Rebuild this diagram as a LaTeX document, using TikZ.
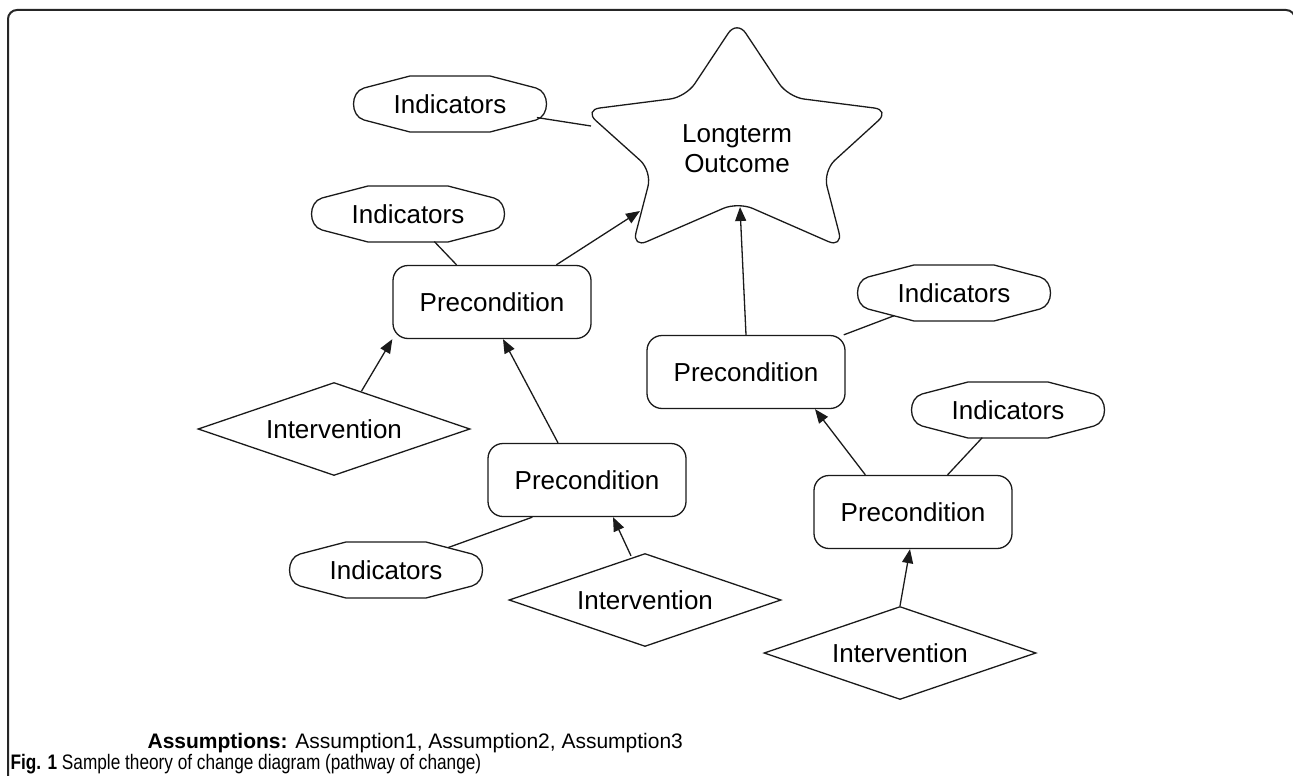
\documentclass[tikz,border=0pt]{standalone}
\usepackage{fontspec}
\setmainfont{Liberation Sans}
\usetikzlibrary{arrows.meta,shapes.geometric,calc}
\definecolor{ink}{HTML}{1A1A1A}
\newcommand\indicnode[2]{%
  \node[indic] (#1) at (#2) {Indicators};
  \draw[line width=1.3pt, ink, shift={(#1.center)}]
    (-40,-28) -- (40,-28) -- (86,-16) .. controls (100,-12) and (100,12) .. (86,16)
    -- (40,28) -- (-40,28) -- (-86,16) .. controls (-100,12) and (-100,-12) .. (-86,-16) -- cycle;}
\begin{document}
\begin{tikzpicture}[x=1pt,y=-1pt,
  line width=1.3pt, draw=ink,
  every node/.style={font=\fontsize{26}{30}\selectfont, text=black},
  prec/.style={draw=ink, rounded corners=15pt, minimum width=198pt, minimum height=73pt, inner sep=0pt},
  interv/.style={diamond, aspect=2.9, draw=ink, minimum width=272pt, minimum height=93pt, inner sep=0pt},
  indic/.style={ellipse, minimum width=196pt, minimum height=56pt, inner sep=0pt},
  arr/.style={-{Triangle[length=14pt,width=11pt]}, ink},
  link/.style={ink}]
\useasboundingbox (0,0) rectangle (1293,776);
% frame
\draw[line width=2pt, black!85, rounded corners=9pt] (8,790) -- (8,10) -- (1295,10) -- (1295,790);

% star
\draw[ink, rounded corners=16pt]
  (737,20) -- (788,97) -- (890,110) -- (823,171) -- (843,248) -- (738,202)
  -- (632,248) -- (652,171) -- (584,110) -- (686,97) -- cycle;
\node[align=center] (star) at (737,149) {Longterm\\Outcome};
\coordinate (sl) at (591,126);
\coordinate (sa) at (640,211);
\coordinate (sb) at (740,207);

% preconditions
\node[prec] (p1) at (492,302) {Precondition};
\node[prec] (p2) at (746,372) {Precondition};
\node[prec] (p3) at (587,480) {Precondition};
\node[prec] (p4) at (913,512) {Precondition};

% interventions
\node[interv] (d1) at (334,429) {Intervention};
\node[interv] (d2) at (645,600) {Intervention};
\node[interv] (d3) at (900,653) {Intervention};

% indicators
\indicnode{i1}{450,104}
\indicnode{i2}{408,214}
\indicnode{i3}{954,293}
\indicnode{i4}{386,570}
\indicnode{i5}{1008,410}

% connectors
\draw[arr] (p1.30.5) -- (sa);
\draw[arr] (p2.north) -- (sb);
\draw[link] (i1) -- (sl);
\draw[link] (i2) -- (p1);
\draw[link] (i3) -- (p2);
\draw[arr] (d1.54) -- (p1.south west);
\draw[arr] ($(p3.north)+(-29,0)$) -- ($(p1.south)+(11,0)$);
\draw[link] (i4) -- ($(p3.south west)+(45,0)$);
\draw[arr] ($(d2.north)+(-14,3)$) -- ($(p3.south)+(26,0)$);
\draw[arr] ($(p4.north west)+(52,0)$) -- ($(p2.south)+(69,0)$);
\draw[link] (i5) -- (p4);
\draw[arr] (d3.north) -- ($(p4.south)+(-3,0)$);

% assumptions and caption
\node[anchor=west, font=\fontsize{21}{21}\selectfont, inner sep=0pt] (assum) at (147,743)
  {\textbf{Assumptions:} Assumption1, Assumption2, Assumption3};
\node[anchor=west, inner sep=0pt, font=\fontsize{21}{21}\selectfont] (cap) at (10,764)
  {\scalebox{0.82}[1]{\textbf{Fig. 1} Sample theory of change diagram (pathway of change)}};
\end{tikzpicture}
\end{document}
